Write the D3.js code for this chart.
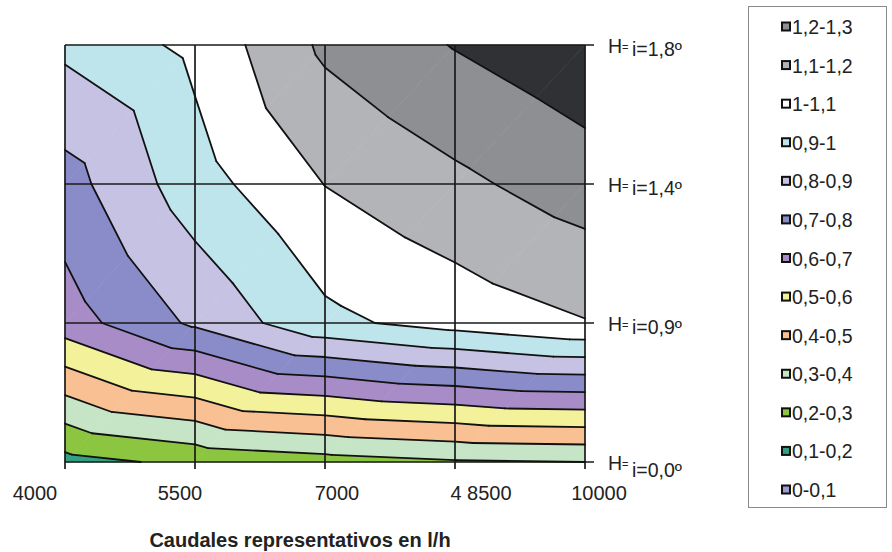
<!DOCTYPE html>
<html>
<head>
<meta charset="utf-8">
<script src="https://cdnjs.cloudflare.com/ajax/libs/d3/7.8.5/d3.min.js"></script>
<style>
body { margin: 0; background: #fff; }
text { font-family: "Liberation Sans", Arial, sans-serif; fill: #222; }
</style>
</head>
<body>
<svg id="chart" width="892" height="552"></svg>
<script>
// categorias del eje X (caudales en l/h), tal como aparecen
var caudales = ["4000", "5500", "7000", "4 8500", "10000"];
// series = pendientes
var series = ["i=0,0º", "i=0,9º", "i=1,4º", "i=1,8º"];
// valores de la superficie, una fila por serie
var serieI00 = [0.165, 0.225, 0.26, 0.29, 0.30];
var serieI09 = [0.653, 0.818, 0.975, 1.04, 1.095];
var serieI14 = [0.76, 0.957, 1.102, 1.178, 1.25];
var serieI18 = [0.923, 1.025, 1.219, 1.305, 1.374];
// bandas de la leyenda (de abajo arriba)
var bandas = ["0-0,1", "0,1-0,2", "0,2-0,3", "0,3-0,4", "0,4-0,5", "0,5-0,6", "0,6-0,7",
              "0,7-0,8", "0,8-0,9", "0,9-1", "1-1,1", "1,1-1,2", "1,2-1,3"];
var umbrales = [0, 0.1, 0.2, 0.3, 0.4, 0.5, 0.6, 0.7, 0.8, 0.9, 1.0, 1.1, 1.2, 1.3, 1.4];
var colores = ["#9d9dd2", "#33a083", "#8cc540", "#c6e5c6", "#f9c193", "#f4f19b", "#a78cc7",
               "#8a8cca", "#c6c2e4", "#bfe5ec", "#ffffff", "#b3b4b8", "#8d8f93", "#2f3134"];

var filas = [serieI00, serieI09, serieI14, serieI18];

var svg = d3.select("#chart");

var x = d3.scalePoint().domain(caudales).range([65, 585]);
var y = d3.scalePoint().domain(series).range([462, 45]);
// posiciones fraccionarias dentro de la rejilla
var xi = d3.scaleLinear().domain([0, caudales.length - 1]).range(x.range());
var yi = d3.scaleLinear().domain([0, series.length - 1]).range(y.range());

var linea = d3.line().x(function(d){ return xi(d.x); }).y(function(d){ return yi(d.y); });

function recorta(poly, f){
    var out = [];
    for(var k = 0; k < poly.length; k++){
        var a = poly[k], b = poly[(k + 1) % poly.length];
        var fa = f(a.v), fb = f(b.v);
        if(fa >= 0) out.push(a);
        if((fa >= 0) !== (fb >= 0)){
            var t = fa / (fa - fb);
            out.push({x: a.x + t * (b.x - a.x), y: a.y + t * (b.y - a.y), v: a.v + t * (b.v - a.v)});
        }
    }
    return out;
}

// cada celda se parte en dos triangulos (diagonal abajo-izq -> arriba-der), como Excel
var triangulos = [];
for(var j = 0; j < filas.length - 1; j++){
    for(var i = 0; i < caudales.length - 1; i++){
        var bl = {x: i, y: j, v: filas[j][i]};
        var br = {x: i + 1, y: j, v: filas[j][i + 1]};
        var tl = {x: i, y: j + 1, v: filas[j + 1][i]};
        var tr = {x: i + 1, y: j + 1, v: filas[j + 1][i + 1]};
        triangulos.push([bl, br, tr]);
        triangulos.push([bl, tr, tl]);
    }
}

var gBandas = svg.append("g");
triangulos.forEach(function(tri){
    for(var b = 0; b < umbrales.length - 1; b++){
        var lo = umbrales[b], hi = umbrales[b + 1];
        var p = recorta(tri, function(v){ return v - lo; });
        if(p.length < 3) continue;
        p = recorta(p, function(v){ return hi - v; });
        if(p.length < 3) continue;
        gBandas.append("path")
            .attr("d", linea(p) + "Z")
            .attr("fill", colores[b])
            .attr("stroke", colores[b])
            .attr("stroke-width", 0.6);
    }
});

// rejilla y marcas de los ejes
var gRejilla = svg.append("g").attr("stroke", "#1a1a1a").attr("stroke-width", 1.7);
caudales.forEach(function(c){
    gRejilla.append("line").attr("x1", x(c)).attr("x2", x(c)).attr("y1", 45).attr("y2", 469);
});
series.forEach(function(s){
    gRejilla.append("line").attr("x1", 65).attr("x2", 594).attr("y1", y(s)).attr("y2", y(s));
});

// lineas de nivel
var gNivel = svg.append("g").attr("stroke", "#111").attr("stroke-width", 1.8)
    .attr("stroke-linecap", "round").attr("fill", "none");
triangulos.forEach(function(tri){
    for(var b = 1; b < umbrales.length - 1; b++){
        var t = umbrales[b], pts = [];
        for(var k = 0; k < 3; k++){
            var a = tri[k], c = tri[(k + 1) % 3];
            if((a.v >= t) !== (c.v >= t)){
                var f = (t - a.v) / (c.v - a.v);
                pts.push({x: a.x + f * (c.x - a.x), y: a.y + f * (c.y - a.y)});
            }
        }
        if(pts.length === 2) gNivel.append("path").attr("d", linea(pts));
    }
});

// etiquetas del eje X
var ajusteX = [-30, -15, 12, 26, 14];
svg.append("g").selectAll("text").data(caudales).enter().append("text")
    .attr("x", function(d, i){ return x(d) + ajusteX[i]; })
    .attr("y", 500)
    .attr("text-anchor", "middle")
    .attr("font-size", "20px")
    .text(function(d){ return d; });

// etiquetas de las series
var gSeries = svg.append("g");
series.forEach(function(s, i){
    var h = gSeries.append("text").attr("x", 608).attr("y", y(s) + 8).attr("font-size", "19.5px");
    h.append("tspan").text("H");
    h.append("tspan").attr("font-size", "11px").attr("dy", -2).text("=");
    gSeries.append("text").attr("x", 632).attr("y", y(s) + (i === 0 ? 15 : 11))
        .attr("font-size", "19.5px").text(s);
});

svg.append("text").attr("x", 300).attr("y", 547).attr("text-anchor", "middle")
    .attr("font-size", "20px").attr("font-weight", "bold")
    .text("Caudales representativos en l/h");

// leyenda
var leyenda = svg.append("g");
leyenda.append("rect").attr("x", 748.5).attr("y", 6.5).attr("width", 138).attr("height", 501)
    .attr("fill", "#fff").attr("stroke", "#8a8a8a").attr("stroke-width", 1);
var itemsLeyenda = bandas.slice().reverse();
var coloresLeyenda = colores.slice(0, bandas.length).reverse();
var yLey = d3.scalePoint().domain(itemsLeyenda).range([34, 497]);
leyenda.selectAll("rect.sw").data(itemsLeyenda).enter().append("rect")
    .attr("class", "sw")
    .attr("x", 782).attr("y", function(d){ return yLey(d) - 11.5; })
    .attr("width", 8).attr("height", 8)
    .attr("fill", function(d, i){ return coloresLeyenda[i]; })
    .attr("stroke", "#111").attr("stroke-width", 2);
leyenda.selectAll("text").data(itemsLeyenda).enter().append("text")
    .attr("x", 792).attr("y", function(d){ return yLey(d); })
    .attr("font-size", "19.5px")
    .text(function(d){ return d; });
</script>
</body>
</html>
